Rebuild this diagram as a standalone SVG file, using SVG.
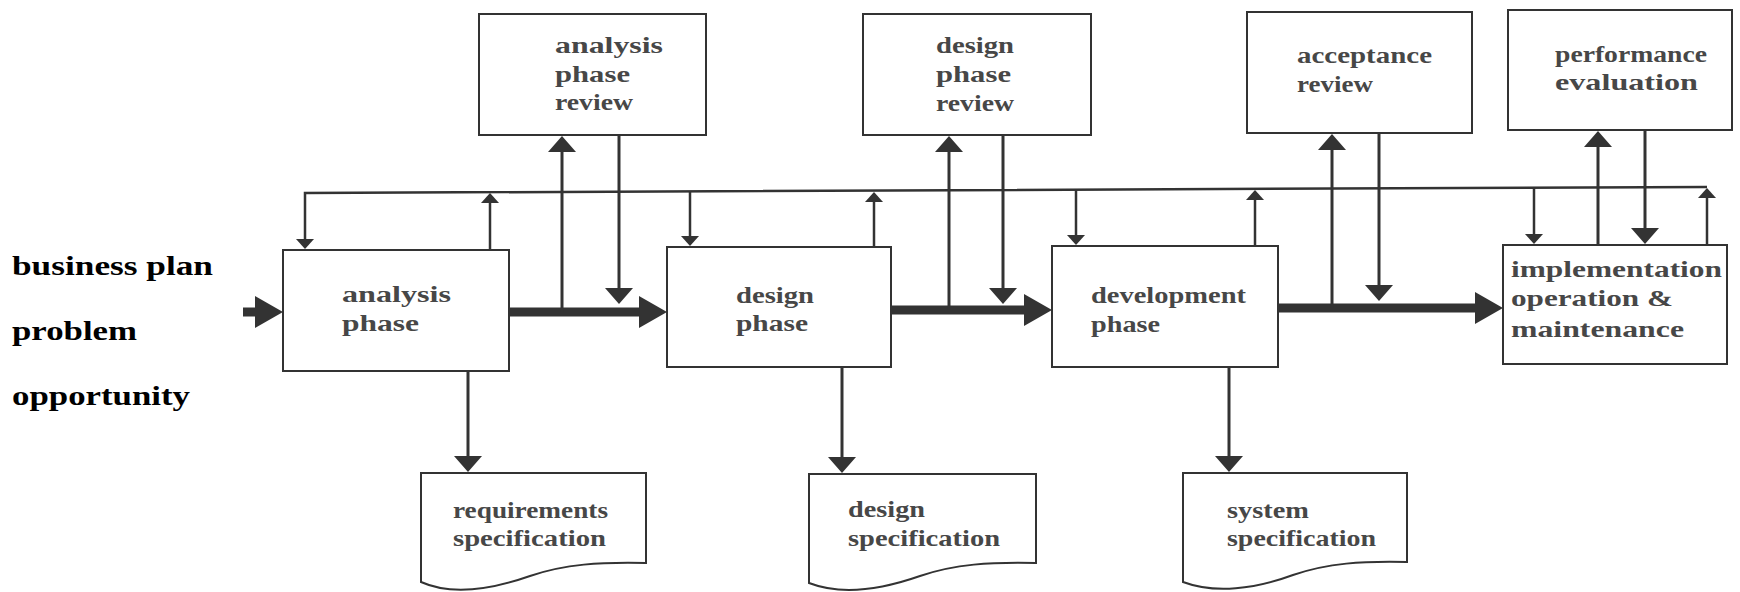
<svg xmlns="http://www.w3.org/2000/svg" width="1740" height="592" viewBox="0 0 1740 592">
  <style>
    .box { fill: #ffffff; stroke: #333333; stroke-width: 2; }
    .doc { fill: #ffffff; stroke: #333333; stroke-width: 2; }
    .lbl { font-family: "Liberation Serif", "Times New Roman", serif; font-size: 23px; font-weight: bold; fill: #474747; }
    .side { font-family: "Liberation Serif", "Times New Roman", serif; font-size: 28px; font-weight: bold; fill: #000000; }
    .thin { fill: none; stroke: #333333; stroke-width: 2.5; }
    .mid { fill: none; stroke: #333333; stroke-width: 3; }
    .thick { fill: none; stroke: #333333; stroke-width: 9; }
  </style>
  <defs>
    <marker id="headS" viewBox="0 -9 11 18" refX="1" refY="0" markerWidth="11" markerHeight="18" markerUnits="userSpaceOnUse" orient="auto">
      <path d="M0,-9 L10,0 L0,9 Z" fill="#333333"/>
    </marker>
    <marker id="headM" viewBox="0 -14 17 28" refX="1" refY="0" markerWidth="17" markerHeight="28" markerUnits="userSpaceOnUse" orient="auto">
      <path d="M0,-14 L16,0 L0,14 Z" fill="#333333"/>
    </marker>
    <marker id="headL" viewBox="0 -16 28 32" refX="2" refY="0" markerWidth="28" markerHeight="32" markerUnits="userSpaceOnUse" orient="auto">
      <path d="M0,-16 L28,0 L0,16 Z" fill="#333333"/>
    </marker>
  </defs>

  <rect width="1740" height="592" fill="#ffffff"/>

  <!-- inputs -->
  <g id="inputs">
    <text class="side" x="12" y="275" textLength="201" lengthAdjust="spacingAndGlyphs">business plan</text>
    <text class="side" x="12" y="340" textLength="125" lengthAdjust="spacingAndGlyphs">problem</text>
    <text class="side" x="12" y="405" textLength="178" lengthAdjust="spacingAndGlyphs">opportunity</text>
  </g>

  <!-- connectors -->
  <g id="connectors">
    <!-- main flow -->
    <path class="thick" d="M243,312 H257" marker-end="url(#headL)"/>
    <path class="thick" d="M509,312 H641" marker-end="url(#headL)"/>
    <path class="thick" d="M891,310 H1026" marker-end="url(#headL)"/>
    <path class="thick" d="M1278,308 H1477" marker-end="url(#headL)"/>

    <!-- feedback bus -->
    <path class="thin" d="M1707,187 L305,193 V240" marker-end="url(#headS)"/>
    <path class="thin" d="M1707,245 V197" marker-end="url(#headS)"/>
    <path class="thin" d="M490,250 V202" marker-end="url(#headS)"/>
    <path class="thin" d="M690,191 V237" marker-end="url(#headS)"/>
    <path class="thin" d="M874,247 V201" marker-end="url(#headS)"/>
    <path class="thin" d="M1076,190 V236" marker-end="url(#headS)"/>
    <path class="thin" d="M1255,246 V199" marker-end="url(#headS)"/>
    <path class="thin" d="M1534,188 V235" marker-end="url(#headS)"/>

    <!-- reviews -->
    <path class="mid" d="M562,312 V151" marker-end="url(#headM)"/>
    <path class="mid" d="M619,135 V289" marker-end="url(#headM)"/>
    <path class="mid" d="M949,310 V151" marker-end="url(#headM)"/>
    <path class="mid" d="M1003,135 V289" marker-end="url(#headM)"/>
    <path class="mid" d="M1332,308 V149" marker-end="url(#headM)"/>
    <path class="mid" d="M1379,133 V286" marker-end="url(#headM)"/>
    <path class="mid" d="M1598,245 V146" marker-end="url(#headM)"/>
    <path class="mid" d="M1645,130 V229" marker-end="url(#headM)"/>

    <!-- deliverables -->
    <path class="mid" d="M468,371 V457" marker-end="url(#headM)"/>
    <path class="mid" d="M842,367 V458" marker-end="url(#headM)"/>
    <path class="mid" d="M1229,367 V457" marker-end="url(#headM)"/>
  </g>

  <!-- review boxes -->
  <g id="analysis-review">
    <rect class="box" x="479" y="14" width="227" height="121"/>
    <text class="lbl" x="555" y="53" textLength="108" lengthAdjust="spacingAndGlyphs">analysis</text>
    <text class="lbl" x="555" y="82" textLength="75" lengthAdjust="spacingAndGlyphs">phase</text>
    <text class="lbl" x="555" y="110" textLength="78" lengthAdjust="spacingAndGlyphs">review</text>
  </g>
  <g id="design-review">
    <rect class="box" x="863" y="14" width="228" height="121"/>
    <text class="lbl" x="936" y="53" textLength="78" lengthAdjust="spacingAndGlyphs">design</text>
    <text class="lbl" x="936" y="82" textLength="75" lengthAdjust="spacingAndGlyphs">phase</text>
    <text class="lbl" x="936" y="111" textLength="78" lengthAdjust="spacingAndGlyphs">review</text>
  </g>
  <g id="acceptance-review">
    <rect class="box" x="1247" y="12" width="225" height="121"/>
    <text class="lbl" x="1297" y="63" textLength="135" lengthAdjust="spacingAndGlyphs">acceptance</text>
    <text class="lbl" x="1297" y="92" textLength="76" lengthAdjust="spacingAndGlyphs">review</text>
  </g>
  <g id="performance-evaluation">
    <rect class="box" x="1508" y="10" width="224" height="120"/>
    <text class="lbl" x="1555" y="62" textLength="152" lengthAdjust="spacingAndGlyphs">performance</text>
    <text class="lbl" x="1555" y="90" textLength="143" lengthAdjust="spacingAndGlyphs">evaluation</text>
  </g>

  <!-- phases -->
  <g id="analysis-phase">
    <rect class="box" x="283" y="250" width="226" height="121"/>
    <text class="lbl" x="342" y="302" textLength="109" lengthAdjust="spacingAndGlyphs">analysis</text>
    <text class="lbl" x="342" y="331" textLength="77" lengthAdjust="spacingAndGlyphs">phase</text>
  </g>
  <g id="design-phase">
    <rect class="box" x="667" y="247" width="224" height="120"/>
    <text class="lbl" x="736" y="303" textLength="78" lengthAdjust="spacingAndGlyphs">design</text>
    <text class="lbl" x="736" y="331" textLength="72" lengthAdjust="spacingAndGlyphs">phase</text>
  </g>
  <g id="development-phase">
    <rect class="box" x="1052" y="246" width="226" height="121"/>
    <text class="lbl" x="1091" y="303" textLength="155" lengthAdjust="spacingAndGlyphs">development</text>
    <text class="lbl" x="1091" y="332" textLength="69" lengthAdjust="spacingAndGlyphs">phase</text>
  </g>
  <g id="implementation">
    <rect class="box" x="1503" y="245" width="224" height="119"/>
    <text class="lbl" x="1511" y="277" textLength="211" lengthAdjust="spacingAndGlyphs" fill="#333333">implementation</text>
    <text class="lbl" x="1511" y="306" textLength="162" lengthAdjust="spacingAndGlyphs" fill="#333333">operation &amp;</text>
    <text class="lbl" x="1511" y="337" textLength="173" lengthAdjust="spacingAndGlyphs" fill="#333333">maintenance</text>
  </g>

  <!-- documents -->
  <g id="requirements-specification">
    <path class="doc" d="M421,473 H646 V563 C600,562 565,564 530,576 C490,590 450,595 421,582 Z"/>
    <text class="lbl" x="453" y="518" textLength="155" lengthAdjust="spacingAndGlyphs">requirements</text>
    <text class="lbl" x="453" y="546" textLength="153" lengthAdjust="spacingAndGlyphs">specification</text>
  </g>
  <g id="design-specification">
    <path class="doc" d="M809,474 H1036 V563 C990,562 955,564 920,576 C880,590 840,595 809,583 Z"/>
    <text class="lbl" x="848" y="517" textLength="77" lengthAdjust="spacingAndGlyphs">design</text>
    <text class="lbl" x="848" y="546" textLength="152" lengthAdjust="spacingAndGlyphs">specification</text>
  </g>
  <g id="system-specification">
    <path class="doc" d="M1183,473 H1407 V562 C1362,561 1328,563 1293,575 C1255,589 1215,594 1183,582 Z"/>
    <text class="lbl" x="1227" y="518" textLength="82" lengthAdjust="spacingAndGlyphs">system</text>
    <text class="lbl" x="1227" y="546" textLength="149" lengthAdjust="spacingAndGlyphs">specification</text>
  </g>
</svg>
